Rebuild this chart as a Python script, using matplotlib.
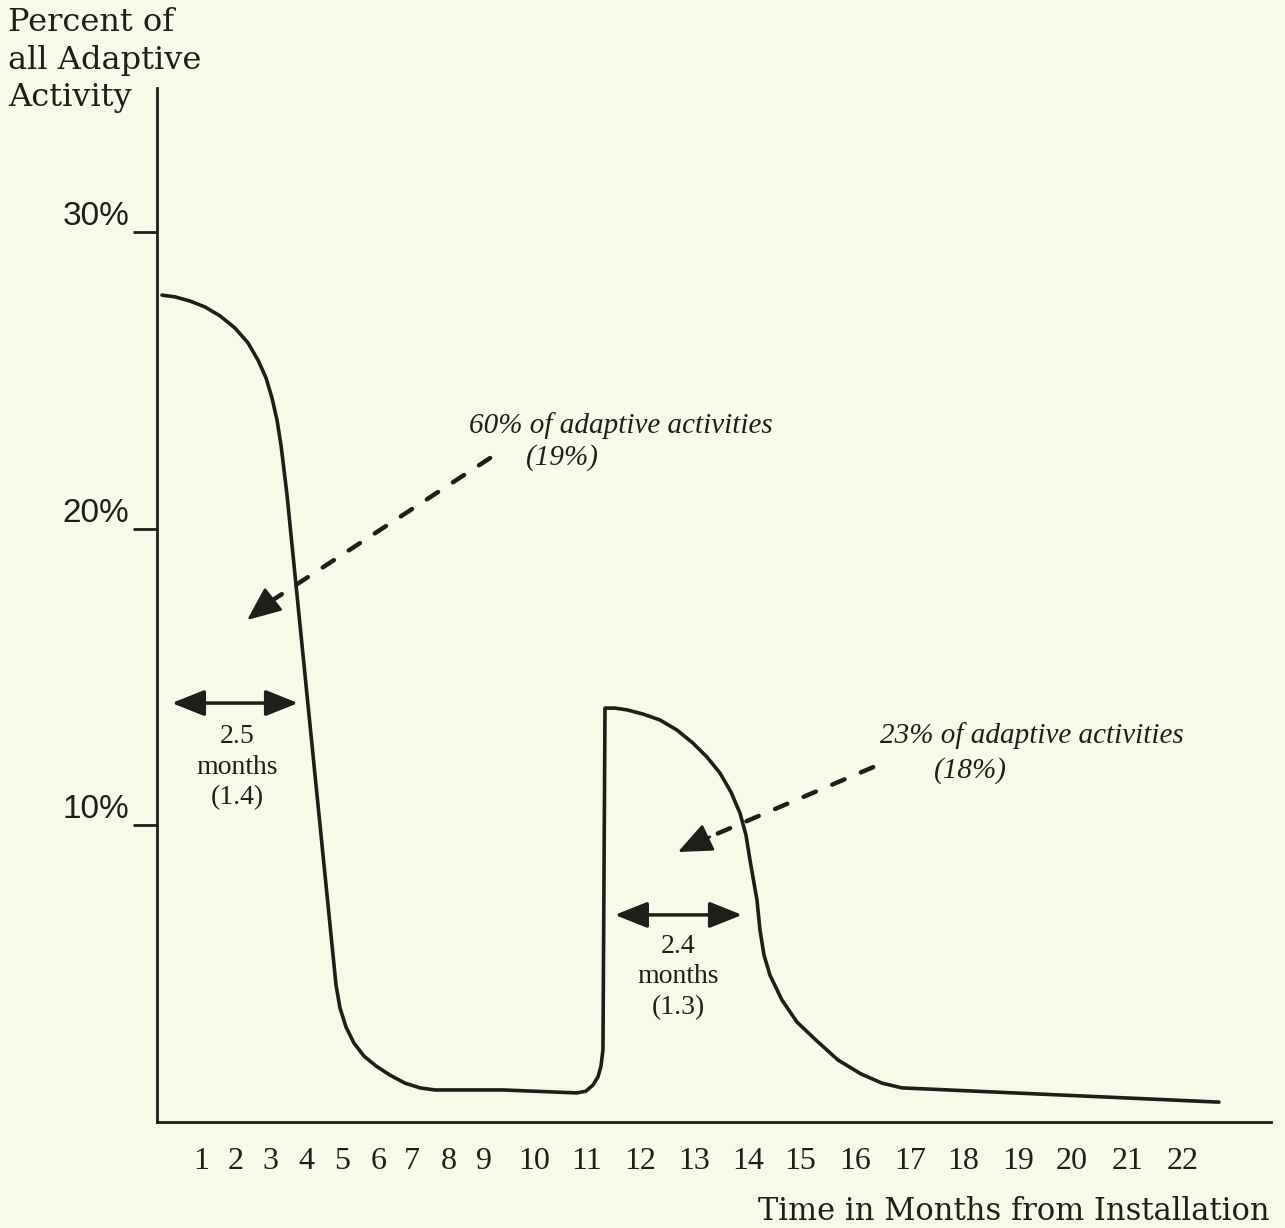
import matplotlib.pyplot as plt

# curve (x in months along the drawn axis, y in percent)
curve_x = [0.094, 0.339, 0.622, 0.905, 1.187, 1.470, 1.715, 1.904, 2.055, 2.168, 2.262,
           2.337, 2.394, 2.451, 3.318, 3.374, 3.450, 3.563, 3.713, 3.902, 4.128, 4.392,
           4.675, 4.958, 5.240, 6.522, 7.917, 8.087, 8.219, 8.313, 8.370, 8.407, 8.445,
           8.633, 8.860, 9.161, 9.482, 9.802, 10.104, 10.368, 10.613, 10.820, 10.990,
           11.103, 11.178, 11.310, 11.367, 11.442, 11.555, 11.781, 12.064, 12.422,
           12.837, 13.271, 13.666, 14.043, 20.019]
curve_y = [27.87, 27.81, 27.67, 27.47, 27.17, 26.76, 26.26, 25.68, 25.08, 24.40, 23.66,
           22.82, 21.98, 21.13, 5.63, 4.62, 3.84, 3.20, 2.66, 2.22, 1.89, 1.58,
           1.31, 1.15, 1.08, 1.08, 0.98, 1.04, 1.25, 1.52, 1.89, 2.43, 13.95,
           13.95, 13.89, 13.75, 13.55, 13.21, 12.77, 12.30, 11.76, 11.12, 10.41,
           9.67, 8.83, 7.48, 6.47, 5.63, 4.95, 4.11, 3.37, 2.76,
           2.09, 1.62, 1.31, 1.15, 0.67]

month_labels = [str(m) for m in range(1, 23)]
month_pos = [0.83, 1.49, 2.13, 2.81, 3.49, 4.17, 4.81, 5.50, 6.16, 7.11, 8.09,
             9.10, 10.12, 11.14, 12.12, 13.16, 14.19, 15.19, 16.23, 17.25, 18.30, 19.34]
pct_ticks = [10, 20, 30]
pct_labels = ["10%", "20%", "30%"]

# spans marked with double arrows: (start, end, height)
span1 = (0.28, 2.66, 14.12)
span2 = (8.63, 11.03, 6.98)

bg = "#f8f9e8"
ink = "#1e1e1a"
W, H = 1285, 1228

fig = plt.figure(figsize=(W / 100, H / 100), dpi=100, facecolor=bg)
ax = fig.add_axes([157 / W, 1 - 1122 / H, (1271 - 157) / W, (1122 - 88) / H])
ax.set_facecolor(bg)
ax.set_xlim(0, 21)
ax.set_ylim(0, 34.85)
for s in ["top", "right"]:
    ax.spines[s].set_visible(False)
for s in ["left", "bottom"]:
    ax.spines[s].set_linewidth(2)
    ax.spines[s].set_color(ink)

ax.plot(curve_x, curve_y, color=ink, lw=2.6, solid_capstyle="round", solid_joinstyle="round")

# ticks
ax.set_xticks(month_pos, month_labels, fontsize=23, family="Liberation Serif", color=ink)
ax.tick_params(axis="x", length=0, pad=18)
ax.set_yticks(pct_ticks, pct_labels, fontsize=24, family="Liberation Sans", color=ink)
ax.tick_params(axis="y", length=17, width=2, color=ink, pad=3)
plt.setp(ax.get_yticklabels(), va="bottom")

# double arrows
for a, b, h in [span1, span2]:
    ax.annotate("", xy=(b, h), xytext=(a, h),
                arrowprops=dict(arrowstyle="<|-|>,head_length=0.5,head_width=0.2",
                                mutation_scale=40, color=ink, lw=2.5,
                                shrinkA=0, shrinkB=0))

ax.text(1.51, 11.96, "2.5\nmonths\n(1.4)", ha="center", va="center", fontsize=20,
        family="Liberation Serif", color=ink, linespacing=1.3)
ax.text(9.82, 4.89, "2.4\nmonths\n(1.3)", ha="center", va="center", fontsize=20,
        family="Liberation Serif", color=ink, linespacing=1.3)

# dashed pointers
pointers = [((6.28, 22.38), (2.13, 17.53), (1.70, 16.92)),
            ((13.50, 11.96), (10.42, 9.61), (9.82, 9.10))]
for start, mid, tip in pointers:
    ax.plot([start[0], mid[0]], [start[1], mid[1]], color=ink, lw=3.2,
            dashes=(3, 4), dash_capstyle="round")
    ax.annotate("", xy=tip, xytext=mid,
                arrowprops=dict(arrowstyle="-|>,head_length=0.7,head_width=0.3",
                                mutation_scale=30, color=ink, lw=2,
                                shrinkA=0, shrinkB=0))

note_kw = dict(ha="center", va="center", fontsize=21, style="italic",
               family="Liberation Serif", color=ink)
ax.text(8.75, 23.49, "60% of adaptive activities", **note_kw)
ax.text(7.65, 22.38, "(19%)", **note_kw)
ax.text(16.49, 13.04, "23% of adaptive activities", **note_kw)
ax.text(15.34, 11.86, "(18%)", **note_kw)

fig.text(8 / W, 1 - 7 / H, "Percent of\nall Adaptive\nActivity", ha="left", va="top",
         fontsize=23, family="DejaVu Serif", color=ink, linespacing=1.28)
fig.text(1270 / W, 1 - 1212 / H, "Time in Months from Installation", ha="right",
         va="center", fontsize=22, family="DejaVu Serif", color=ink)

fig.savefig("out.png", dpi=100, facecolor=bg)
